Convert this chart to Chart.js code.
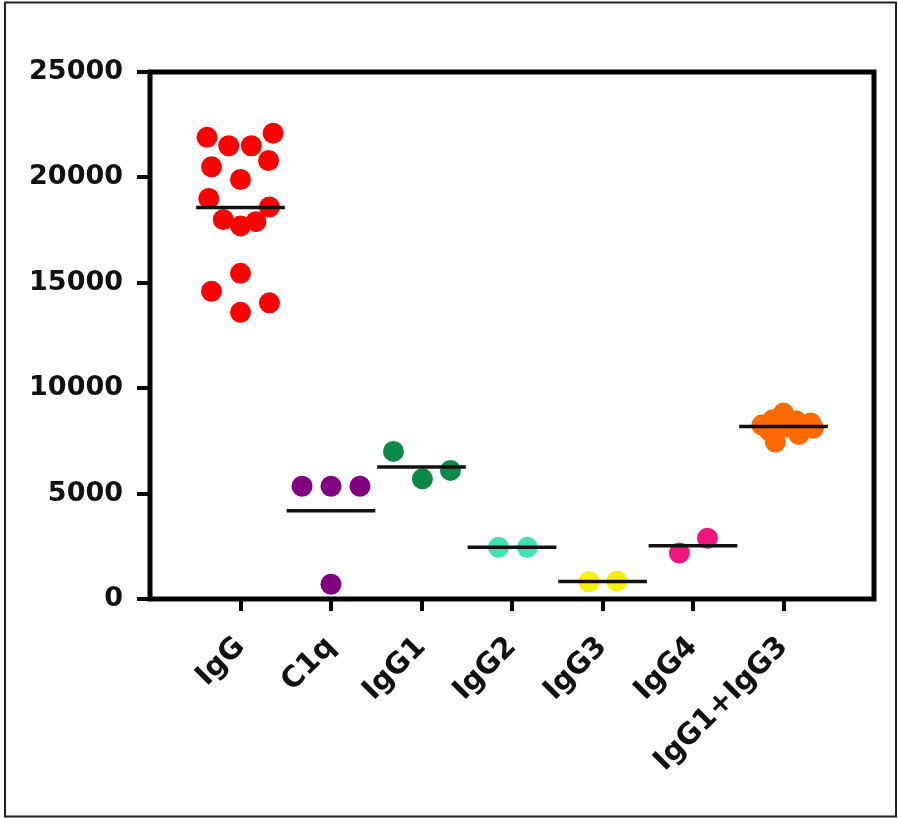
<!DOCTYPE html>
<html>
<head>
<meta charset="utf-8">
<script src="https://cdn.jsdelivr.net/npm/chart.js@4/dist/chart.umd.min.js"></script>
<style>
    html, body { margin: 0; padding: 0; background: #fff; }
    canvas { display: block; }
</style>
</head>
<body>
<canvas id="chart" width="898" height="818"></canvas>
<script>
// categories on the x axis
const categories = ['IgG', 'C1q', 'IgG1', 'IgG2', 'IgG3', 'IgG4', 'IgG1+IgG3'];
const yTicks = [0, 5000, 10000, 15000, 20000, 25000];

// measured values per group
const igG = [21900, 21500, 21500, 22100, 20500, 20800, 19900, 19000, 18600, 18000, 17700, 17900, 15450, 14600, 13600, 14050];
const c1q = [5350, 5350, 5350, 700];
const igG1 = [7000, 5700, 6100];
const igG2 = [2450, 2450];
const igG3 = [820, 850];
const igG4 = [2180, 2880];
const igG1igG3 = [8820, 8500, 8450, 8250, 8350, 8100, 7950, 7800, 7450, 8150];

// horizontal scatter of each point within its column (category units)
const igGSpread = [-0.37, -0.13, 0.12, 0.36, -0.32, 0.31, 0, -0.35, 0.32, -0.19, 0, 0.17, 0, -0.32, 0, 0.32];
const c1qSpread = [-0.32, 0, 0.32, 0];
const igG1Spread = [-0.31, 0.01, 0.32];
const igG2Spread = [-0.15, 0.17];
const igG3Spread = [-0.15, 0.16];
const igG4Spread = [-0.15, 0.16];
const igG1igG3Spread = [0, -0.12, 0.14, -0.24, 0.3, 0.33, -0.15, 0.17, -0.09, 0.05];

const groups = [igG, c1q, igG1, igG2, igG3, igG4, igG1igG3];
const spreads = [igGSpread, c1qSpread, igG1Spread, igG2Spread, igG3Spread, igG4Spread, igG1igG3Spread];
const colors = ['#ff0000', '#800080', '#0b8a46', '#3ee3b0', '#f7f200', '#f0167f', '#ff6a00'];

const mean = arr => arr.reduce((a, b) => a + b, 0) / arr.length;

const datasets = [];

// mean lines on top of the dots
groups.forEach((vals, i) => {
    const m = mean(vals);
    datasets.push({
        type: 'line',
        data: [{ x: i - 0.49, y: m }, { x: i + 0.49, y: m }],
        borderColor: '#111',
        borderWidth: 3.5,
        pointRadius: 0,
        order: 0
    });
});

groups.forEach((vals, i) => {
    datasets.push({
        type: 'scatter',
        label: categories[i],
        data: vals.map((v, j) => ({ x: i + spreads[i][j], y: v })),
        backgroundColor: colors[i],
        borderWidth: 0,
        pointRadius: 10.5,
        pointHoverRadius: 10.5,
        order: 1
    });
});

// plot frame and outer picture border
const framePlugin = {
    id: 'frame',
    afterDatasetsDraw(chart) {
        const { ctx, chartArea: a } = chart;
        ctx.save();
        ctx.strokeStyle = '#000';
        ctx.lineWidth = 5;
        ctx.lineJoin = 'miter';
        ctx.strokeRect(a.left, a.top, a.right - a.left, a.bottom - a.top);
        ctx.lineWidth = 2;
        ctx.strokeStyle = '#222';
        ctx.strokeRect(5, 2.5, 891, 814);
        ctx.restore();
    }
};

new Chart(document.getElementById('chart'), {
    type: 'scatter',
    data: { datasets },
    options: {
        responsive: false,
        animation: false,
        layout: { padding: { top: 72, right: 24, left: 0, bottom: 0 } },
        plugins: { legend: { display: false }, tooltip: { enabled: false } },
        scales: {
            x: {
                type: 'linear',
                min: -1,
                max: 7,
                afterBuildTicks: scale => { scale.ticks = categories.map((c, i) => ({ value: i })); },
                afterFit: scale => { scale.height = 219; },
                border: { display: false },
                grid: { drawOnChartArea: false, drawTicks: true, tickLength: 12, lineWidth: 4, color: '#000' },
                ticks: {
                    autoSkip: false,
                    minRotation: 45,
                    maxRotation: 45,
                    padding: 19,
                    color: '#111',
                    font: { family: 'DejaVu Sans', size: 29, weight: 'bold' },
                    callback: v => categories[v]
                }
            },
            y: {
                min: 0,
                max: 25000,
                afterBuildTicks: scale => { scale.ticks = yTicks.map(v => ({ value: v })); },
                afterFit: scale => { scale.width = 150; },
                border: { display: false },
                grid: { drawOnChartArea: false, drawTicks: true, tickLength: 13, lineWidth: 4, color: '#000' },
                ticks: {
                    padding: 14,
                    color: '#111',
                    font: { family: 'DejaVu Sans', size: 27, weight: 'bold' },
                    callback: v => String(v)
                }
            }
        }
    },
    plugins: [framePlugin]
});
</script>
</body>
</html>
